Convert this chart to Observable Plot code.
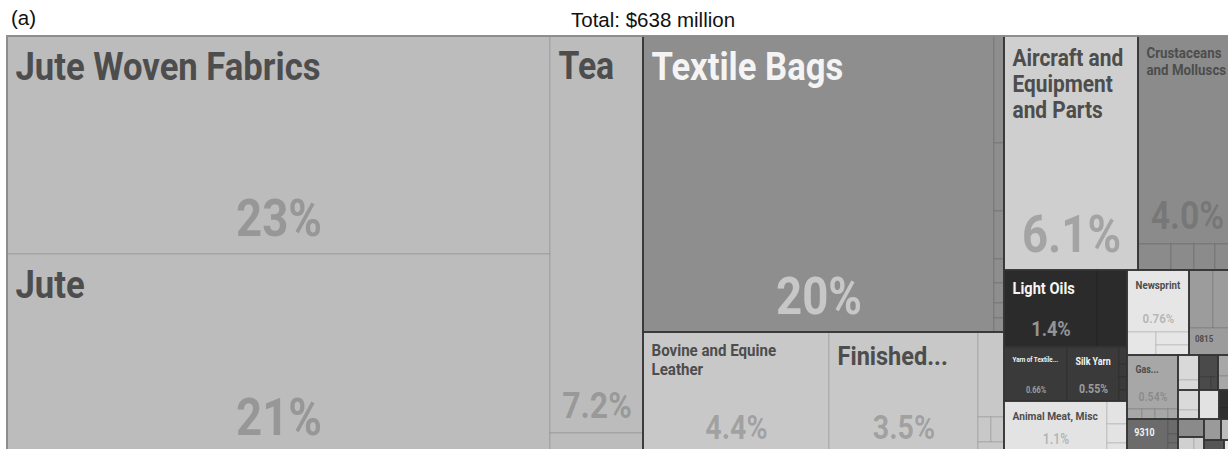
<!DOCTYPE html>
<html><head><meta charset="utf-8">
<script src="https://cdn.jsdelivr.net/npm/d3@7"></script>
<script src="https://cdn.jsdelivr.net/npm/@observablehq/plot@0.6"></script>
<style>
html,body{margin:0;padding:0;background:#fff;overflow:hidden;width:1228px;height:449px}
#head{position:relative;height:34px;font-family:"Liberation Sans",Arial,Helvetica,sans-serif;font-size:20.5px;line-height:20px;color:#111}
#head span{position:absolute;white-space:nowrap}
#chart svg{display:block}
</style></head><body>
<div id="head"><span id="tag" style="left:11px;top:8px">(a)</span><span id="total" style="left:571px;top:10px"></span></div>
<div id="chart"></div>
<script>
// ---------------- data ----------------
const totalMillions = 638;

const groupNames = ["Jute and Tea","Textile Articles","Leather","Aircraft","Seafood","Mineral Fuels","Silk",
  "Animal Products","Paper","Fruits","Gas","Instruments","Vegetables","Machinery","Oil Seeds","Chemicals",
  "Plastics","Iron and Steel","Wood","Electronics","Footwear","Ceramics","Glass","Toys"];

const products = [
  "Jute Woven Fabrics","Jute","Tea","Spices",
  "Textile Bags","Tarpaulins and Tents","Blankets","Bed Linen","Used Clothing","Carpets","Twine and Cordage","Textile Floor Coverings",
  "Bovine and Equine Leather","Finished...","Raw Hides and Skins","Sheep and Lamb Leather","Goat Leather","Leather Footwear",
  "Aircraft and Equipment and Parts",
  "Crustaceans and Molluscs","Frozen Fish","Fish Fillets","Dried Fish","Fresh Fish",
  "Light Oils","Heavy Oils",
  "Yarn of Textile...","Silk Yarn","Raw Silk","Silk Waste","Woven Silk Fabrics","Sewing Thread",
  "Animal Meat, Misc","Bones and Horns","Animal Hair","Feathers and Down",
  "Newsprint","Paper Containers","Uncoated Paper","Paperboard",
  "Dried Fruits","Citrus Fruits","0815",
  "Gas...","Gas Cylinders","Lighters","Matches","Candles",
  "9310","Measuring Instruments","Optical Parts","Meters",
  "Dried Legumes","Onions",
  "Pumps","Valves","Engine Parts",
  "Mustard Seed","Sesame Seed",
  "Urea","Fertilizers, Misc",
  "Plastic Sacks",
  "Scrap Iron","Steel Bars",
  "Rough Wood",
  "Insulated Cables","Batteries",
  "Rubber Footwear",
  "Ceramic Tableware",
  "Glassware",
  "Toys, Misc"
];

const productGroup = [
  "Jute and Tea","Jute and Tea","Jute and Tea","Jute and Tea",
  "Textile Articles","Textile Articles","Textile Articles","Textile Articles","Textile Articles","Textile Articles","Textile Articles","Textile Articles",
  "Leather","Leather","Leather","Leather","Leather","Leather",
  "Aircraft",
  "Seafood","Seafood","Seafood","Seafood","Seafood",
  "Mineral Fuels","Mineral Fuels",
  "Silk","Silk","Silk","Silk","Silk","Silk",
  "Animal Products","Animal Products","Animal Products","Animal Products",
  "Paper","Paper","Paper","Paper",
  "Fruits","Fruits","Fruits",
  "Gas","Gas","Gas","Gas","Gas",
  "Instruments","Instruments","Instruments","Instruments",
  "Vegetables","Vegetables",
  "Machinery","Machinery","Machinery",
  "Oil Seeds","Oil Seeds",
  "Chemicals","Chemicals",
  "Plastics",
  "Iron and Steel","Iron and Steel",
  "Wood",
  "Electronics","Electronics",
  "Footwear",
  "Ceramics",
  "Glass",
  "Toys"
];

// share of total exports, %
const shares = [
  23.2, 21.1, 7.2, 0.36,
  20.35, 0.205, 0.129, 0.092, 0.046, 0.038, 0.029, 0.027,
  4.4, 3.5, 0.44, 0.067, 0.067, 0.055,
  6.1,
  4.0, 0.17, 0.115, 0.11, 0.105,
  1.4, 0.45,
  0.66, 0.55, 0.025, 0.02, 0.02, 0.015,
  1.06, 0.09, 0.07, 0.04,
  0.76, 0.13, 0.08, 0.07,
  0.27, 0.26, 0.255,
  0.54, 0.03, 0.025, 0.025, 0.02,
  0.27, 0.03, 0.02, 0.02,
  0.10, 0.04,
  0.08, 0.03, 0.02,
  0.08, 0.04,
  0.07, 0.05,
  0.11,
  0.06, 0.04,
  0.09,
  0.05, 0.03,
  0.07,
  0.06,
  0.05,
  0.03
];

// ---------------- styles ----------------
const groupColors = ["#bcbcbc","#8e8e8e","#c8c8c8","#cfcfcf","#8b8b8b","#2b2b2b","#3a3a3a",
  "#e3e3e3","#e6e6e6","#9c9c9c","#a7a7a7","#6b6b6b","#d9d9d9","#4a4a4a","#dadada","#a8a8a8",
  "#e2e2e2","#2f2f2f","#8a8a8a","#d0d0d0","#9a9a9a","#bdbdbd","#555555","#e6e6e6"];
const lightTextGroups = ["Textile Articles","Mineral Fuels","Silk","Instruments","Machinery","Iron and Steel","Glass"];

document.getElementById("total").textContent = `Total: $${totalMillions} million`;

// ---------------- layout ----------------
const W = 1229, H = 417;
const root = d3.hierarchy({
    children: groupNames.map(g => ({
      name: g,
      children: products.map((p, i) => ({name: p, group: productGroup[i], share: shares[i]}))
                        .filter(d => d.group === g)
    }))
  })
  .sum(d => d.share || 0)
  .sort((a, b) => b.value - a.value);
d3.treemap().size([W, H]).tile(d3.treemapSquarify).round(true)(root);
const S = root.value;

const leaves = root.leaves().map(n => ({...n.data, x0: n.x0, x1: n.x1, y0: n.y0, y1: n.y1}));
const groupBoxes = root.children.map(n => ({name: n.data.name, x0: n.x0, x1: n.x1, y0: n.y0, y1: n.y1}));
const frame = [{x0: root.x0, x1: root.x1, y0: root.y0, y1: root.y1}];

// ---------------- text fitting ----------------
const ctx = document.createElement("canvas").getContext("2d");
const FONT = "Roboto";
function raw(t, s) { ctx.font = `bold ${s}px ${FONT}`; return ctx.measureText(t).width; }
const CL = 305 / raw("Jute Woven Fabrics", 39);  // condense factor for names
const CS = 86 / raw("23%", 52);                  // condense factor for shares
const tw = (t, s) => raw(t, s) * CL;
function wrap(text, s, avail) {
  const words = text.split(" ");
  const lines = [];
  let cur = "";
  for (const w of words) {
    if (tw(w, s) > avail) return null;
    const cand = cur ? cur + " " + w : w;
    if (tw(cand, s) <= avail) cur = cand; else { lines.push(cur); cur = w; }
  }
  lines.push(cur);
  return lines;
}
const fmt = d3.format(".2r");
const labels = [], shareLabels = [];
for (const d of leaves) {
  const w = d.x1 - d.x0, h = d.y1 - d.y0;
  if (w < 36 || h < 26) continue;
  const light = lightTextGroups.includes(d.group);
  const withShare = w >= 45 && h >= 45;
  const pad = Math.min(8, h * 0.2);
  const hLimit = withShare ? 0.35 * h - 4 : h - 2 * pad - 6;
  const cap = Math.min(39, (withShare ? 0.2 : 0.28) * Math.sqrt(w * h));
  const maxLines = Math.max(1, Math.ceil(d.name.split(" ").length / 2));
  let fit = null;
  for (let s = Math.floor(cap * 2) / 2; s >= 5.5; s -= 0.5) {
    const lines = wrap(d.name, s, w - 1.6 * pad - 3);
    if (lines && lines.length <= maxLines && lines.length * s * 1.1 <= hLimit) { fit = {s, lines}; break; }
  }
  if (!fit) continue;
  labels.push({x: d.x0 + pad, y: d.y0 + pad + 0.139 * fit.s, text: fit.lines.join("\n"), size: fit.s, light});
  if (withShare) {
    const t = fmt(d.share / S * 100) + "%";
    let s2 = Math.min(52, 0.75 * w / (raw(t, 100) / 100 * CS), 0.27 * h, 0.3 * Math.sqrt(w * h));
    if (fit.s < 14) s2 = Math.min(s2, 1.2 * fit.s);
    shareLabels.push({x: (d.x0 + d.x1) / 2, y: d.y1 - (6 + 0.25 * s2), text: t, size: s2, light});
  }
}

const textCommon = {fontFamily: FONT, fontWeight: "bold", fontSize: d => d.size, text: "text", x: "x", y: "y"};

const chart = Plot.plot({
  width: 1228, height: 415, margin: 0,
  x: {domain: [0, W], range: [7, 7 + W], axis: null},
  y: {domain: [0, H], range: [2, 2 + H], axis: null},
  color: {type: "ordinal", domain: groupNames, range: groupColors},
  style: {background: "#fff"},
  marks: [
    Plot.rect(leaves, {x1: "x0", x2: "x1", y1: "y0", y2: "y1", fill: "group", stroke: "#000", strokeOpacity: 0.13, strokeWidth: 1}),
    Plot.rect(groupBoxes, {x1: "x0", x2: "x1", y1: "y0", y2: "y1", fill: "none", stroke: "#353535", strokeWidth: 1.5}),
    Plot.rect(frame, {x1: "x0", x2: "x1", y1: "y0", y2: "y1", fill: "none", stroke: "#a0a0a0", strokeWidth: 1.5}),
    Plot.text(labels.filter(d => !d.light), {...textCommon, textAnchor: "start", lineAnchor: "top", lineHeight: 1.1, fill: "#4d4d4d"}),
    Plot.text(labels.filter(d => d.light), {...textCommon, textAnchor: "start", lineAnchor: "top", lineHeight: 1.1, fill: "#f4f4f4"}),
    Plot.text(shareLabels.filter(d => !d.light), {...textCommon, textAnchor: "middle", lineAnchor: "bottom", fill: "#4d4d4d", fillOpacity: 0.33}),
    Plot.text(shareLabels.filter(d => d.light), {...textCommon, textAnchor: "middle", lineAnchor: "bottom", fill: "#ffffff", fillOpacity: 0.5})
  ]
});
// condense the bold face horizontally (the reference uses a condensed typeface)
const tgroups = chart.querySelectorAll('g[aria-label="text"]');
const factors = [CL, CL, CS, CS];
tgroups.forEach((g, k) => {
  g.querySelectorAll("text").forEach(t => {
    const tr = t.getAttribute("transform") || "";
    t.setAttribute("transform", `${tr} scale(${factors[k]},1)`);
  });
});
document.getElementById("chart").appendChild(chart);
</script></body></html>
